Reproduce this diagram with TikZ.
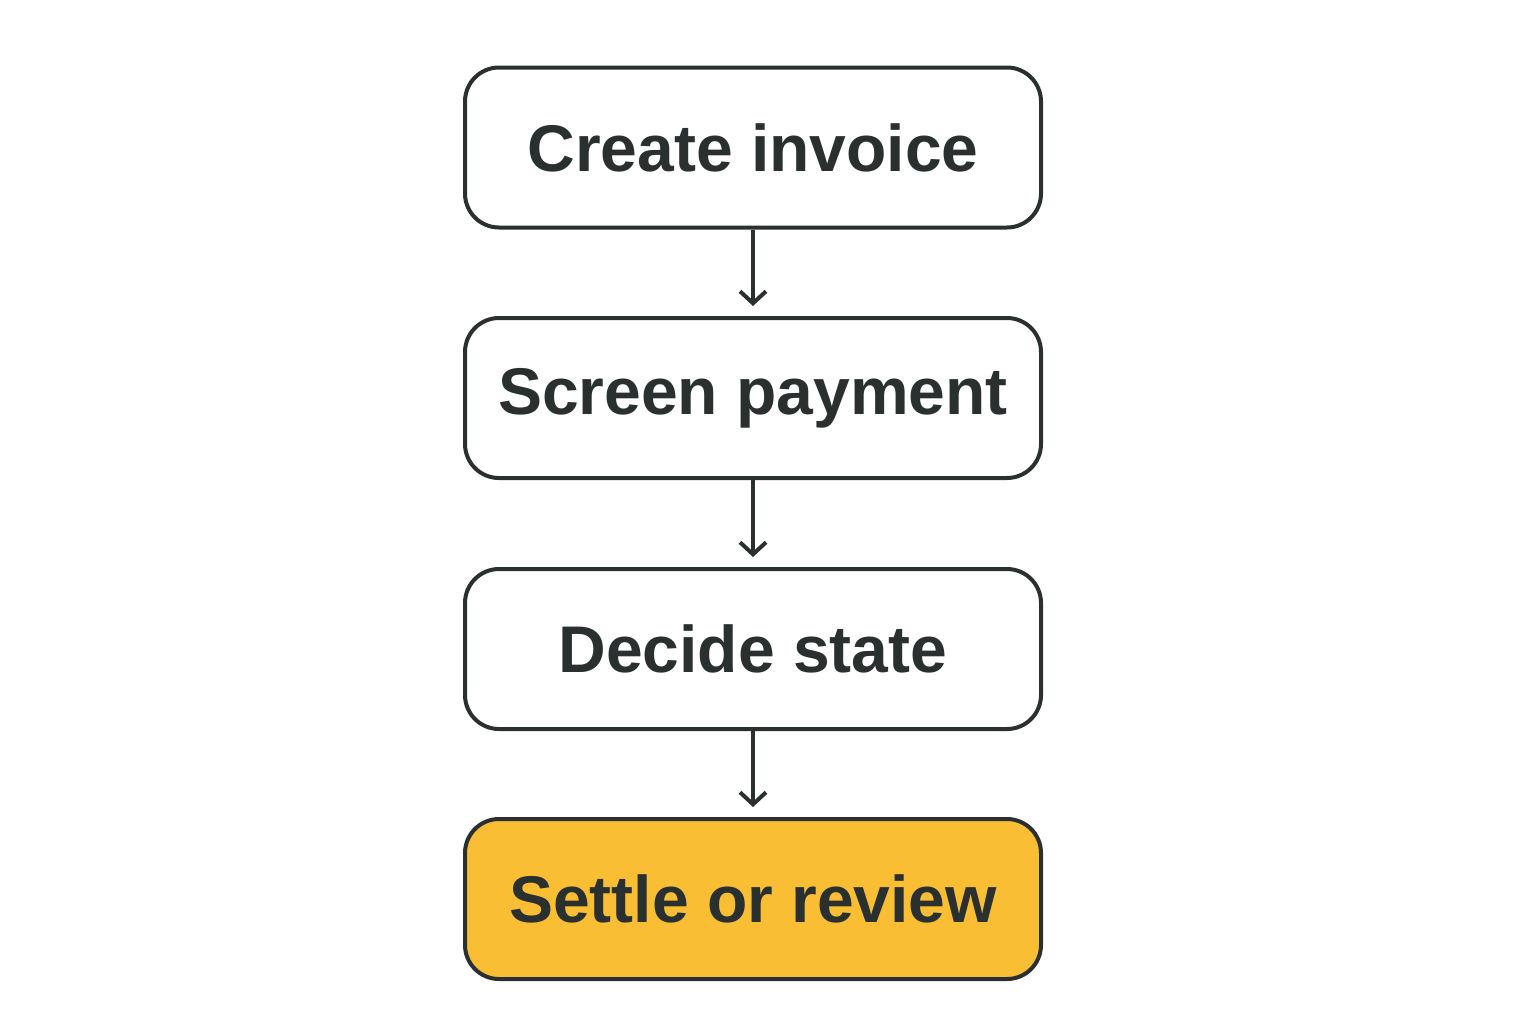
\documentclass[tikz,border=0pt]{standalone}
\usepackage{fontspec}
\setmainfont{Liberation Sans}
\usetikzlibrary{arrows.meta}
\definecolor{ink}{HTML}{2A302F}
\definecolor{gold}{HTML}{F9BE33}
\begin{document}
\begin{tikzpicture}[x=0.5pt,y=-0.5pt,
  box/.style={draw=ink,line width=2pt,rounded corners=17pt,minimum width=288pt,minimum height=80pt,font=\fontsize{33}{36}\selectfont\bfseries,text=ink,fill=white},
  flow/.style={draw=ink,line width=2pt,-{Straight Barb[length=6pt,width=13pt,line width=2pt]},shorten >=5pt}]
\useasboundingbox (0,0) rectangle (1536,1024);
\node[box] (a) at (753,147.5) {Create invoice};
\node[box] (b) at (753,398) {Screen payment};
\node[box] (c) at (753,649) {Decide state};
\node[box,fill=gold] (d) at (753,899) {Settle or review};
\draw[flow] (a) -- (b);
\draw[flow] (b) -- (c);
\draw[flow] (c) -- (d);
\end{tikzpicture}
\end{document}
